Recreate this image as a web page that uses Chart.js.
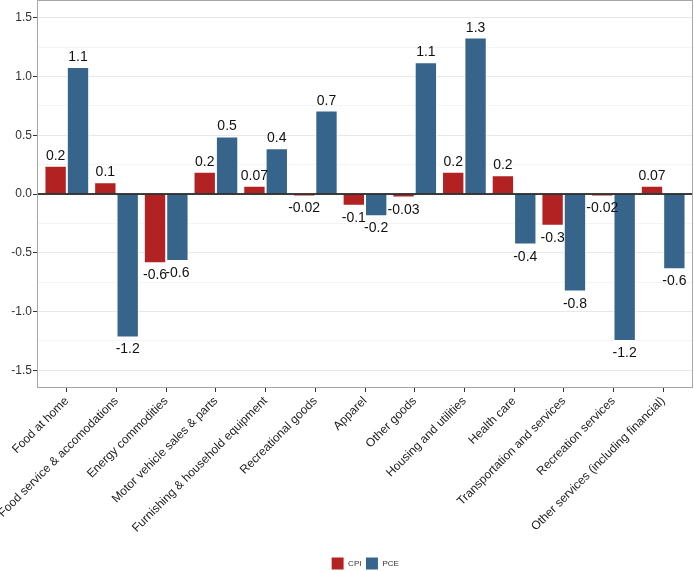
<!DOCTYPE html>
<html>
<head>
<meta charset="utf-8">
<script src="https://cdn.jsdelivr.net/npm/chart.js@4.4.1/dist/chart.umd.min.js"></script>
<style>
  html, body { margin: 0; padding: 0; background: #fff; }
  #wrap { width: 694px; height: 571px; position: relative; }
</style>
</head>
<body>
<div id="wrap"><canvas id="myChart"></canvas></div>
<script>
// data
const categories = [
    "Food at home", "Food service & accomodations", "Energy commodities",
    "Motor vehicle sales & parts", "Furnishing & household equipment",
    "Recreational goods", "Apparel", "Other goods", "Housing and utilities",
    "Health care", "Transportation and services", "Recreation services",
    "Other services (including financial)"
];
const cpi = [0.24, 0.10, -0.59, 0.19, 0.07, -0.02, -0.10, -0.03, 0.19, 0.16, -0.27, -0.02, 0.07];
const pce = [1.08, -1.22, -0.57, 0.49, 0.39, 0.71, -0.19, 1.12, 1.33, -0.43, -0.83, -1.25, -0.64];
const cpiLabels = ["0.2", "0.1", "-0.6", "0.2", "0.07", "-0.02", "-0.1", "-0.03", "0.2", "0.2", "-0.3", "-0.02", "0.07"];
const pceLabels = ["1.1", "-1.2", "-0.6", "0.5", "0.4", "0.7", "-0.2", "1.1", "1.3", "-0.4", "-0.8", "-1.2", "-0.6"];

const FONT = '"Liberation Sans", Arial, Helvetica, sans-serif';

// labels over/under bars, zero line and panel border
const extras = {
    id: "extras",
    afterDatasetsDraw(chart) {
        const ctx = chart.ctx;
        const area = chart.chartArea;
        const y0 = chart.scales.y.getPixelForValue(0);
        ctx.save();
        ctx.strokeStyle = "#000";
        ctx.lineWidth = 1.5;
        ctx.beginPath();
        ctx.moveTo(area.left, y0);
        ctx.lineTo(area.right, y0);
        ctx.stroke();

        ctx.font = "14px " + FONT;
        ctx.fillStyle = "#111";
        ctx.textAlign = "center";
        ctx.textBaseline = "alphabetic";
        const texts = [cpiLabels, pceLabels];
        chart.data.datasets.forEach((ds, di) => {
            chart.getDatasetMeta(di).data.forEach((bar, i) => {
                const v = ds.data[i].y;
                if (v >= 0) {
                    ctx.fillText(texts[di][i], bar.x, bar.y - 6);
                } else {
                    ctx.fillText(texts[di][i], bar.x, bar.y + 16);
                }
            });
        });

        ctx.strokeStyle = "#a6a6a6";
        ctx.lineWidth = 1;
        ctx.strokeRect(area.left + 0.5, area.top + 0.5, area.right - area.left - 1, area.bottom - area.top - 1);
        ctx.restore();
    }
};

const config = {
    type: "bar",
    data: {
        datasets: [
            {
                label: "CPI",
                data: cpi.map((v, i) => ({ x: i, y: v })),
                backgroundColor: "#B22222",
                borderColor: "#ffffff",
                borderWidth: 1
            },
            {
                label: "PCE",
                data: pce.map((v, i) => ({ x: i, y: v })),
                backgroundColor: "#36648B",
                borderColor: "#ffffff",
                borderWidth: 1
            }
        ]
    },
    options: {
        responsive: true,
        maintainAspectRatio: false,
        animation: false,
        categoryPercentage: 0.9,
        barPercentage: 1,
        layout: { padding: { top: 0, right: 1, left: 0, bottom: -9 } },
        plugins: {
            tooltip: { enabled: false },
            legend: {
                position: "bottom",
                fullSize: false,
                labels: {
                    boxWidth: 13,
                    boxHeight: 13,
                    padding: 4,
                    color: "#333",
                    font: { size: 8, family: FONT }
                }
            }
        },
        scales: {
            x: {
                type: "linear",
                min: -0.6,
                max: 12.6,
                offset: false,
                afterBuildTicks: (scale) => {
                    scale.ticks = categories.map((c, i) => ({ value: i }));
                },
                afterFit: (scale) => {
                    scale.height = 165;
                    scale.paddingLeft = 0;
                    scale.paddingRight = 0;
                },
                border: { display: false },
                grid: {
                    offset: false,
                    drawOnChartArea: false,
                    drawTicks: true,
                    tickLength: 4,
                    tickColor: "#333"
                },
                ticks: {
                    autoSkip: false,
                    minRotation: 45,
                    maxRotation: 45,
                    padding: 2,
                    color: "#222",
                    font: { size: 12, family: FONT },
                    callback: (v) => categories[v]
                }
            },
            y: {
                min: -1.65,
                max: 1.65,
                afterFit: (scale) => {
                    scale.width = 37;
                    scale.paddingTop = 0;
                    scale.paddingBottom = 0;
                },
                border: { display: false },
                grid: {
                    color: (c) => (Math.abs(c.tick.value * 2 - Math.round(c.tick.value * 2)) < 1e-6 ? "#e8e8e8" : "#f4f4f4"),
                    tickColor: (c) => (Math.abs(c.tick.value * 2 - Math.round(c.tick.value * 2)) < 1e-6 ? "#333" : "rgba(0,0,0,0)"),
                    tickLength: 4
                },
                ticks: {
                    stepSize: 0.25,
                    includeBounds: false,
                    padding: 1,
                    color: "#333",
                    font: { size: 12, family: FONT },
                    callback: (v) => {
                        if (Math.abs(v * 2 - Math.round(v * 2)) > 1e-6) return "";
                        return v.toFixed(1);
                    }
                }
            }
        }
    },
    plugins: [extras]
};

const myChart = new Chart(document.getElementById("myChart"), config);
</script>
</body>
</html>
